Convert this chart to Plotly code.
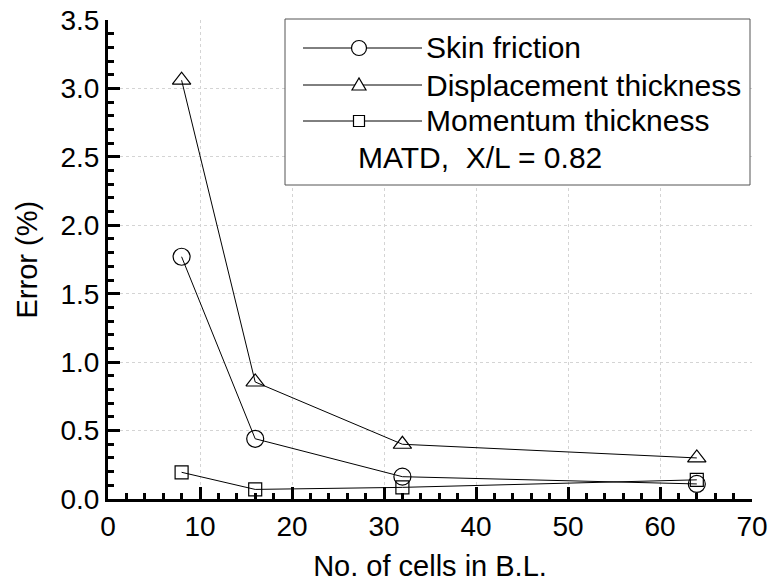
import plotly.graph_objects as go

cells = [8, 16, 32, 64]
skin_friction = [1.77, 0.44, 0.163, 0.11]
displacement = [3.06, 0.855, 0.40, 0.30]
momentum = [0.195, 0.07, 0.085, 0.14]

series_names = ["Skin friction", "Displacement thickness", "Momentum thickness"]
series_values = [skin_friction, displacement, momentum]
symbols = ["circle-open", "triangle-up-open", "square-open"]
plot_sizes = [17, 16, 13]
note_text = "MATD,  X/L = 0.82"
x_title = "No. of cells in B.L."
y_title = "Error (%)"

FONT = "Liberation Sans, Arial, sans-serif"
TICK_FS = 28
TEXT_FS = 29
LEG_FS = 30

fig = go.Figure()
for name, vals, sym, sz in zip(series_names, series_values, symbols, plot_sizes):
    fig.add_trace(go.Scatter(
        x=cells, y=vals, mode="lines+markers", name=name,
        line=dict(color="black", width=1),
        marker=dict(symbol=sym, size=sz, color="black", line=dict(width=1.2)),
        cliponaxis=False, showlegend=False))

# custom legend box (paper coordinates = plot area)
def px_x(p):
    return (p - 108) / 644

def px_y(p):
    return (499 - p) / 479

fig.add_shape(type="rect", xref="paper", yref="paper",
              x0=px_x(285), x1=px_x(750), y0=px_y(185), y1=px_y(19),
              line=dict(color="#555555", width=1), fillcolor="white", layer="above")

row_y = [px_y(48), px_y(85), px_y(121)]
lx0, lx1, lxm, ltx = px_x(303), px_x(422), px_x(359), px_x(424)
sample_paths = [
    None,
    "M-7,-5 L7,-5 L0,7 Z",
    "M-5.5,-5.5 L5.5,-5.5 L5.5,5.5 L-5.5,5.5 Z",
]
for i, (name, ry) in enumerate(zip(series_names, row_y)):
    fig.add_shape(type="line", xref="paper", yref="paper", x0=lx0, x1=lx1, y0=ry, y1=ry,
                  line=dict(color="black", width=1), layer="above")
    if i == 0:
        fig.add_shape(type="circle", xref="paper", yref="paper",
                      xsizemode="pixel", ysizemode="pixel", xanchor=lxm, yanchor=ry,
                      x0=-7.5, x1=7.5, y0=-7.5, y1=7.5,
                      line=dict(color="black", width=1.2), fillcolor="white", layer="above")
    else:
        fig.add_shape(type="path", xref="paper", yref="paper",
                      xsizemode="pixel", ysizemode="pixel", xanchor=lxm, yanchor=ry,
                      path=sample_paths[i],
                      line=dict(color="black", width=1.2), fillcolor="white", layer="above")
    fig.add_annotation(x=ltx, y=ry, xref="paper", yref="paper", text=name,
                       showarrow=False, xanchor="left", yanchor="middle",
                       font=dict(family=FONT, size=LEG_FS, color="black"))
fig.add_annotation(x=px_x(356), y=px_y(157), xref="paper", yref="paper", text=note_text,
                   showarrow=False, xanchor="left", yanchor="middle",
                   font=dict(family=FONT, size=LEG_FS, color="black"))

# y-axis title as rotated text
fig.add_annotation(x=px_x(26), y=0.5, xref="paper", yref="paper", text=y_title,
                   textangle=-90, showarrow=False, xanchor="center", yanchor="middle",
                   font=dict(family=FONT, size=TEXT_FS, color="black"))

fig.update_layout(
    width=770, height=586,
    margin=dict(l=108, r=18, t=20, b=87),
    paper_bgcolor="white", plot_bgcolor="white",
    font=dict(family=FONT, size=TEXT_FS, color="black"),
    xaxis=dict(range=[0, 70], dtick=10, automargin=False,
               showline=True, linecolor="black", linewidth=3,
               ticks="inside", ticklen=12, tickwidth=3, tickcolor="black",
               showgrid=True, gridcolor="#d4d4d4", gridwidth=1, griddash="dot",
               minor=dict(ticks="inside", ticklen=6, tickcolor="black", dtick=2),
               tickfont=dict(family=FONT, size=TICK_FS, color="black"),
               title=dict(text=x_title, font=dict(family=FONT, size=TEXT_FS), standoff=16)),
    yaxis=dict(range=[0, 3.5], dtick=0.5, tickformat=".1f", automargin=False,
               showline=True, linecolor="black", linewidth=3,
               ticks="inside", ticklen=12, tickwidth=3, tickcolor="black",
               showgrid=True, gridcolor="#d4d4d4", gridwidth=1, griddash="dot",
               minor=dict(ticks="inside", ticklen=6, tickcolor="black", dtick=0.1),
               tickfont=dict(family=FONT, size=TICK_FS, color="black")),
)

fig.write_html("out.html")
